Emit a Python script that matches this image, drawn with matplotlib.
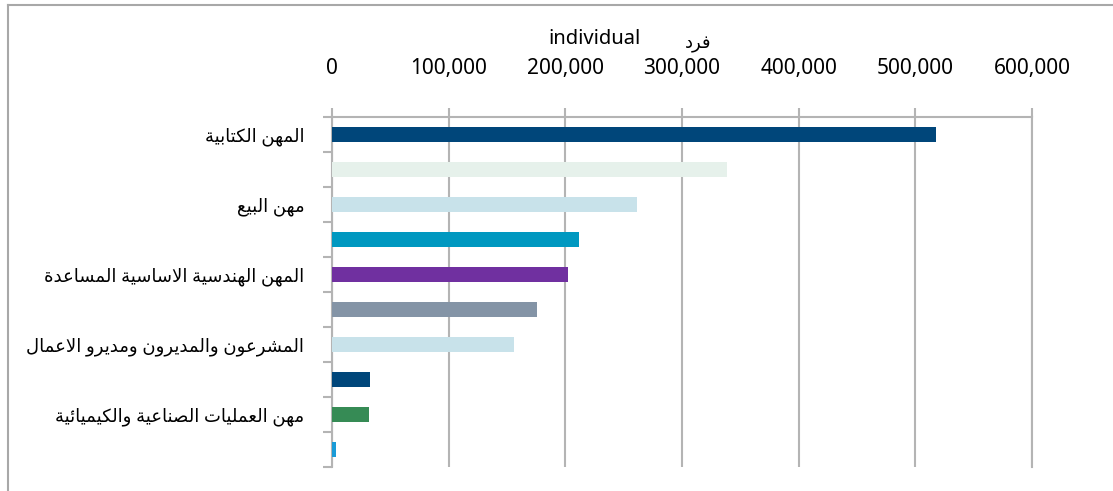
#!/usr/bin/env python3

import matplotlib

matplotlib.use("Agg")
import matplotlib.pyplot as plt
from matplotlib.lines import Line2D
from matplotlib.ticker import FuncFormatter


# values (individuals)
LABELS = [
    "المهن الكتابية",
    "",
    "مهن البيع",
    "",
    "المهن الهندسية الاساسية المساعدة",
    "",
    "المشرعون والمديرون ومديرو الاعمال",
    "",
    "مهن العمليات الصناعية والكيميائية",
    "",
]
VALUES = [518000, 338500, 261500, 211500, 202500, 175500, 156000, 32500, 31500, 3300]
COLORS = [
    "#00467a", "#e6f1eb", "#c8e2ea", "#0098c0", "#7030a0",
    "#8494a6", "#c8e2ea", "#00467a", "#368b55", "#1a9bd7",
]
X_TICKS = [0, 100000, 200000, 300000, 400000, 500000, 600000]

GRID_GRAY = "#b4b4b4"
FONTS = ["Noto Sans", "DejaVu Sans"]

# Arabic presentation forms: (isolated, final, initial, medial); None = no such form
FORMS = {
    "ء": (0xFE80, None, None, None),
    "ئ": (0xFE89, 0xFE8A, 0xFE8B, 0xFE8C),
    "ا": (0xFE8D, 0xFE8E, None, None),
    "ب": (0xFE8F, 0xFE90, 0xFE91, 0xFE92),
    "ة": (0xFE93, 0xFE94, None, None),
    "ت": (0xFE95, 0xFE96, 0xFE97, 0xFE98),
    "د": (0xFEA9, 0xFEAA, None, None),
    "ر": (0xFEAD, 0xFEAE, None, None),
    "س": (0xFEB1, 0xFEB2, 0xFEB3, 0xFEB4),
    "ش": (0xFEB5, 0xFEB6, 0xFEB7, 0xFEB8),
    "ص": (0xFEB9, 0xFEBA, 0xFEBB, 0xFEBC),
    "ع": (0xFEC9, 0xFECA, 0xFECB, 0xFECC),
    "ف": (0xFED1, 0xFED2, 0xFED3, 0xFED4),
    "ك": (0xFED9, 0xFEDA, 0xFEDB, 0xFEDC),
    "ل": (0xFEDD, 0xFEDE, 0xFEDF, 0xFEE0),
    "م": (0xFEE1, 0xFEE2, 0xFEE3, 0xFEE4),
    "ن": (0xFEE5, 0xFEE6, 0xFEE7, 0xFEE8),
    "ه": (0xFEE9, 0xFEEA, 0xFEEB, 0xFEEC),
    "و": (0xFEED, 0xFEEE, None, None),
    "ي": (0xFEF1, 0xFEF2, 0xFEF3, 0xFEF4),
}


def _joins_next(ch):
    return ch in FORMS and FORMS[ch][2] is not None


def shape_arabic(text):
    # matplotlib has no Arabic shaping / bidi, so do it by hand
    out = []
    i = 0
    n = len(text)
    while i < n:
        ch = text[i]
        if ch not in FORMS:
            out.append(ch)
            i += 1
            continue
        prev_joins = i > 0 and _joins_next(text[i - 1]) and FORMS[ch][1] is not None
        if ch == "ل" and i + 1 < n and text[i + 1] == "ا":
            out.append(chr(0xFEFC if prev_joins else 0xFEFB))
            i += 2
            continue
        next_joins = _joins_next(ch) and i + 1 < n and text[i + 1] in FORMS and FORMS[text[i + 1]][1] is not None
        iso, fin, ini, med = FORMS[ch]
        if prev_joins and next_joins:
            code = med
        elif prev_joins:
            code = fin
        elif next_joins:
            code = ini
        else:
            code = iso
        out.append(chr(code))
        i += 1
    return "".join(reversed(out))


def main():
    plt.rcParams["font.family"] = FONTS
    fig = plt.figure(figsize=(11.13, 4.91), dpi=100)
    ax = fig.add_axes([332 / 1113, 1 - 467 / 491, 700 / 1113, 350 / 491])

    y_pos = list(range(len(VALUES)))
    ax.barh(y_pos, VALUES, height=0.43, color=COLORS, zorder=3)

    ax.set_xlim(0, 600000)
    ax.set_ylim(len(VALUES) - 0.5, -0.5)

    ax.xaxis.tick_top()
    ax.set_xticks(X_TICKS)
    ax.xaxis.set_major_formatter(FuncFormatter(lambda v, _: f"{int(v):,}"))
    ax.tick_params(axis="x", direction="out", length=6.5, width=1.5,
                   color=GRID_GRAY, pad=21, labelsize=15, labelcolor="#000000")
    ax.grid(True, axis="x", color=GRID_GRAY, linewidth=1.5, zorder=0)

    ax.set_yticks(y_pos)
    ax.set_yticklabels([shape_arabic(t) for t in LABELS])
    ax.set_yticks([p - 0.5 for p in y_pos] + [len(VALUES) - 0.5], minor=True)
    ax.tick_params(axis="y", which="major", length=0, pad=20, labelsize=13)
    ax.tick_params(axis="y", which="minor", direction="out", length=6.5,
                   width=1.5, color=GRID_GRAY)

    ax.spines["bottom"].set_visible(False)
    for side in ("top", "left", "right"):
        ax.spines[side].set_color(GRID_GRAY)
        ax.spines[side].set_linewidth(1.5)

    fig.text(595 / 1113, 1 - 39 / 491, "individual", ha="center", va="center",
             fontsize=14.5)
    fig.text(698 / 1113, 1 - 44 / 491, shape_arabic("فرد"), ha="center",
             va="center", fontsize=13)

    # outer frame (only top and left edges are visible in the crop)
    fig.add_artist(Line2D([8 / 1113, 8 / 1113], [0, 1 - 5 / 491],
                          transform=fig.transFigure, color="#a8a8a8", linewidth=1.5))
    fig.add_artist(Line2D([8 / 1113, 1], [1 - 5 / 491, 1 - 5 / 491],
                          transform=fig.transFigure, color="#a8a8a8", linewidth=1.5))

    fig.savefig("out.png", dpi=100)
    plt.close(fig)
    return 0


if __name__ == "__main__":
    raise SystemExit(main())
